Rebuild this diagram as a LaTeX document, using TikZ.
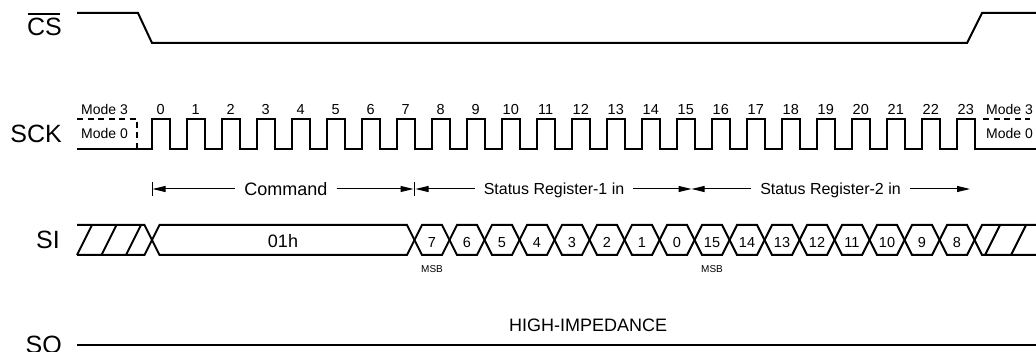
\documentclass[tikz,border=0pt]{standalone}
\usepackage{fontspec}
\setmainfont{Liberation Sans}
\usetikzlibrary{arrows.meta}
\tikzset{
  signame/.style={font=\fontsize{25}{30}\selectfont, anchor=base east, inner sep=0pt},
  modetxt/.style={font=\fontsize{14}{16}\selectfont, anchor=base, inner sep=0pt},
  bitno/.style={font=\fontsize{14.5}{17}\selectfont, anchor=base, inner sep=0pt},
  msbtxt/.style={font=\fontsize{10}{12}\selectfont, anchor=base, inner sep=0pt},
  spantxt/.style={font=\fontsize{16}{19}\selectfont, inner xsep=9pt, inner ysep=0pt, text depth=0pt},
  wave/.style={line width=2pt},
  spanarrow/.style={line width=1pt, -{Triangle[length=13pt,width=6pt]}}
}
\begin{document}
\begin{tikzpicture}[x=1pt,y=-1pt]
  \useasboundingbox (0,0) rectangle (1036,352);

  % signal names
  \node[signame] (cs) at (62,36) {CS};
  \draw[line width=1.8pt] ([xshift=1.5pt,yshift=4.5pt]cs.north west) -- ([xshift=-2pt,yshift=4.5pt]cs.north east);
  \node[signame] (sck) at (62,142.5) {SCK};
  \node[signame] (si) at (60,249) {SI};
  \node[signame] (so) at (62,354) {SO};

  % CS
  \draw[wave] (77,13) -- (138,13) -- (152,43) -- (967,43) -- (982,13) -- (1036,13);

  % SCK
  \draw[wave] (77,149) -- (152,149)
    \foreach \i in {0,...,23} { -- ++(0,-30) -- ++(17.5,0) -- ++(0,30) -- ++(17.5,0) } -- (1036,149);
  \draw[wave,dash pattern=on 6pt off 4.5pt] (77,119) -- (137,119) -- (137,149);
  \draw[wave,dash pattern=on 6pt off 4.5pt] (983,119) -- (1030,119);
  \foreach \i in {0,...,23}
    \node[bitno] (ck\i) at (160.75+35*\i,115) {\i};
  \node[modetxt] (modeAl) at (104.5,115) {Mode 3};
  \node[modetxt] (modeBl) at (104.5,139) {Mode 0};
  \node[modetxt,anchor=base west] (modeAr) at (986,115) {Mode 3};
  \node[modetxt,anchor=base west] (modeBr) at (986,139) {Mode 0};

  % byte spans
  \coordinate (cmdL) at (152.5,189);
  \coordinate (cmdR) at (414.5,189);
  \coordinate (srAR) at (691.5,189);
  \coordinate (srBR) at (970,189);
  \draw[line width=1pt] ([yshift=7pt]cmdL) -- ([yshift=-7pt]cmdL);
  \draw[line width=1pt] ([yshift=7pt]cmdR) -- ([yshift=-7pt]cmdR);
  \node[spantxt,font=\fontsize{18}{21}\selectfont] (cmd) at (285.8,189) {Command};
  \draw[spanarrow] (cmd.west) -- (cmdL);
  \draw[spanarrow] (cmd.east) -- ([xshift=-1pt]cmdR);
  \node[spantxt] (srA) at (554,189) {Status Register-1 in};
  \draw[spanarrow] (srA.west) -- ([xshift=1pt]cmdR);
  \draw[spanarrow] (srA.east) -- (srAR);
  \node[spantxt] (srB) at (830.5,189) {Status Register-2 in};
  \draw[spanarrow] (srB.west) -- (srAR);
  \draw[spanarrow] (srB.east) -- (srBR);

  % SI
  \draw[wave] (77,225) -- (144.5,225) -- (152,240) -- (144.5,255) -- (77,255);
  \foreach \x in {77,101.5,126}
    \draw[wave] (\x,255) -- ++(15,-30);
  \draw[wave] (152,240) -- (159.5,225) -- (407,225) -- (414.5,240) -- (407,255) -- (159.5,255) -- cycle;
  \node[bitno,font=\fontsize{18}{21}\selectfont] (cmdbyte) at (283,248) {01h};
  \foreach \b [count=\k from 0] in {7,6,5,4,3,2,1,0,15,14,13,12,11,10,9,8} {
    \draw[wave] (414.5+35*\k,240) -- ++(7.5,-15) -- ++(20,0) -- ++(7.5,15) -- ++(-7.5,15) -- ++(-20,0) -- cycle;
    \node[bitno] (bit\b) at (432+35*\k,247.5) {\b};
  }
  \node[msbtxt] (msbA) at (432,273) {MSB};
  \node[msbtxt] (msbB) at (712,273) {MSB};
  \draw[wave] (1036,225) -- (982,225) -- (974.5,240) -- (982,255) -- (1036,255);
  \foreach \x in {985,1011}
    \draw[wave] (\x,255) -- ++(15,-30);

  % SO
  \draw[wave] (77,345.5) -- (1036,345.5);
  \node[anchor=base west,inner sep=0pt,font=\fontsize{18}{21}\selectfont] (hiz) at (509,332) {HIGH-IMPEDANCE};
\end{tikzpicture}
\end{document}
